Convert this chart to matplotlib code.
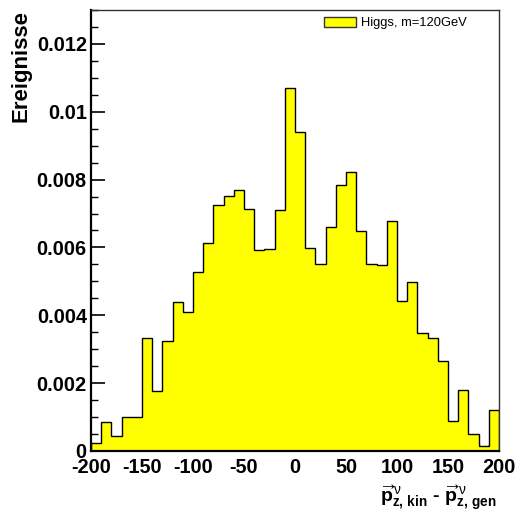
import numpy as np
import matplotlib
matplotlib.use('Agg')
import matplotlib.pyplot as plt
from matplotlib.patches import Patch
from matplotlib.ticker import MultipleLocator, FuncFormatter

plt.rcParams['font.family'] = ['Liberation Sans', 'DejaVu Sans']
plt.rcParams['axes.unicode_minus'] = False
plt.rcParams['mathtext.fontset'] = 'custom'
plt.rcParams['mathtext.rm'] = 'Liberation Sans'
plt.rcParams['mathtext.bf'] = 'Liberation Sans:bold'
plt.rcParams['mathtext.it'] = 'Liberation Sans'

# bin edges, 10 wide from -200 to 200
bin_edges = np.arange(-200, 201, 10)
# normalised counts
counts = [0.00024, 0.00085, 0.00043, 0.00099, 0.00101, 0.00333, 0.00177, 0.00324,
          0.00440, 0.00409, 0.00529, 0.00612, 0.00725, 0.00753, 0.00769, 0.00713,
          0.00592, 0.00595, 0.00709, 0.01070, 0.00939, 0.00598, 0.00551, 0.00660,
          0.00784, 0.00822, 0.00648, 0.00551, 0.00549, 0.00679, 0.00442, 0.00499,
          0.00349, 0.00334, 0.00266, 0.00087, 0.00180, 0.00049, 0.00015, 0.00121]
legend_label = 'Higgs, m=120GeV'
x_ticks = [-200, -150, -100, -50, 0, 50, 100, 150, 200]
y_ticks = [0, 0.002, 0.004, 0.006, 0.008, 0.01, 0.012]

fig = plt.figure(figsize=(5.16, 5.21), dpi=100)
ax = fig.add_axes([0.1764, 0.1344, 0.967 - 0.1764, 0.9808 - 0.1344])

ax.stairs(counts, bin_edges, fill=True, color='#ffff00', zorder=1)
ax.stairs(counts, bin_edges, color='black', linewidth=1.0, zorder=2)

ax.set_xlim(-200, 200)
ax.set_ylim(0, 0.013)
ax.set_axisbelow(True)  # ticks hide behind the fill like in ROOT

ax.set_xticks(x_ticks)
ax.set_yticks(y_ticks)
ax.xaxis.set_minor_locator(MultipleLocator(10))
ax.yaxis.set_minor_locator(MultipleLocator(0.0005))
ax.yaxis.set_major_formatter(FuncFormatter(lambda v, p: '%g' % v))
ax.tick_params(which='both', direction='in', top=False, right=False, labelsize=14.3)
ax.tick_params(which='major', length=10, width=1.2)
ax.tick_params(which='minor', length=5, width=1.0)
ax.tick_params(axis='x', pad=5)
ax.tick_params(axis='y', pad=3)
for lab in ax.get_xticklabels() + ax.get_yticklabels():
	lab.set_fontweight('bold')

for side in ['left', 'bottom']:
	ax.spines[side].set_linewidth(1.6)
for side in ['top', 'right']:
	ax.spines[side].set_linewidth(1.0)
	ax.spines[side].set_color('#333333')

ax.set_ylabel('Ereignisse', fontsize=16, fontweight='bold', ha='right')
ax.yaxis.set_label_coords(-0.145, 1.0)

# plain hyphen between the two momenta, as in the original
p_kin = r'$\overrightarrow{\mathbf{p}}^{\,\nu}_{\mathbf{z,\,kin}}$'
p_gen = r'$\overrightarrow{\mathbf{p}}^{\,\nu}_{\mathbf{z,\,gen}}$'
ax.set_xlabel(p_kin + ' - ' + p_gen, fontsize=14, fontweight='bold', ha='right')
ax.xaxis.set_label_coords(0.995, -0.075)

handle = Patch(facecolor='#ffff00', edgecolor='#333333', linewidth=1.0)
ax.legend([handle], [legend_label], loc='upper left', bbox_to_anchor=(0.571, 0.985),
          borderaxespad=0, borderpad=0, frameon=False, fontsize=9.3,
          handlelength=2.48, handleheight=0.85, handletextpad=0.39)

fig.savefig('out.png', dpi=100)
